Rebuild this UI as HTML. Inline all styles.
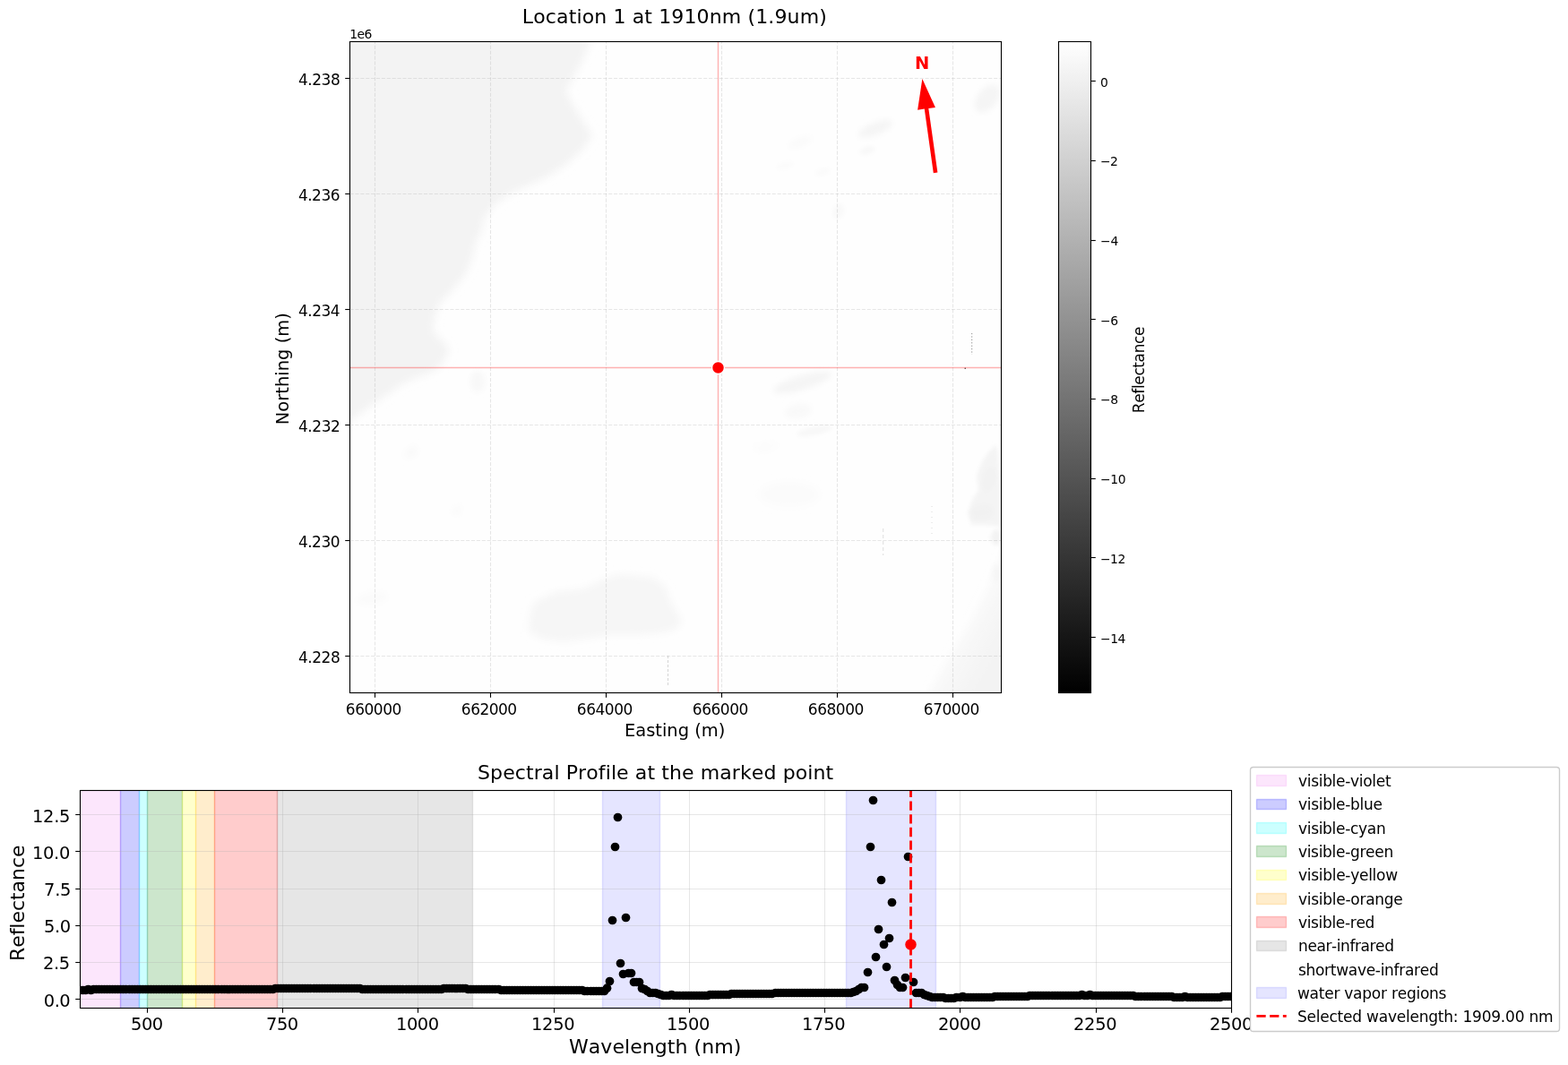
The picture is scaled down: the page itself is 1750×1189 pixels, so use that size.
<!DOCTYPE html>
<html lang="en"><head><meta charset="utf-8"><title>Location 1 at 1910nm (1.9um)</title>
<style>
html,body{margin:0;padding:0;background:#fff;}
body{width:1750px;height:1189px;overflow:hidden;font-family:"DejaVu Sans", "Liberation Sans", sans-serif;}
svg{display:block;}
</style></head>
<body>
<svg width="1750" height="1189" viewBox="0 0 1750 1189" font-family='"DejaVu Sans", "Liberation Sans", sans-serif' style="font-variant-ligatures:none;font-kerning:none">
<defs>
<linearGradient id="cb" x1="0" y1="0" x2="0" y2="1">
<stop offset="0" stop-color="#fff"/><stop offset="1" stop-color="#000"/>
</linearGradient>
<filter id="bl6" x="-30%" y="-30%" width="160%" height="160%"><feGaussianBlur stdDeviation="7"/></filter>
<filter id="bl5" x="-30%" y="-30%" width="160%" height="160%"><feGaussianBlur stdDeviation="5"/></filter>
<filter id="bl4" x="-30%" y="-30%" width="160%" height="160%"><feGaussianBlur stdDeviation="4"/></filter>
<filter id="bl3" x="-50%" y="-50%" width="200%" height="200%"><feGaussianBlur stdDeviation="3"/></filter>
<filter id="bl2" x="-50%" y="-50%" width="200%" height="200%"><feGaussianBlur stdDeviation="2"/></filter>
<clipPath id="c1"><rect x="391" y="47" width="726" height="726"/></clipPath>
<clipPath id="c2"><rect x="90" y="883" width="1284" height="242"/></clipPath>
</defs>
<rect x="0" y="0" width="1750" height="1189" fill="#fff"/>
<g id="img" clip-path="url(#c1)">
<rect x="391" y="47" width="726" height="726" fill="#fefefe"/>
<path d="M360.0 20.0 L663.0 20.0 L659.0 47.4 L650.0 67.8 L640.0 86.3 L631.0 101.0 L640.0 117.7 L651.0 136.2 L661.0 151.0 L651.0 165.9 L631.0 184.4 L607.0 199.2 L570.0 215.8 L551.6 228.8 L540.0 243.6 L537.0 260.0 L531.0 268.5 L527.5 287.0 L520.0 305.5 L505.0 324.0 L490.5 338.8 L485.0 353.6 L483.0 370.0 L496.0 383.0 L501.6 390.7 L496.0 401.8 L487.0 412.9 L459.0 424.0 L450.0 428.0 L440.0 435.0 L413.0 453.6 L394.0 468.0 L370.0 476.0 L360.0 476.0Z" fill="#f3f3f3" fill-opacity="1.0" filter="url(#bl5)"/>
<ellipse cx="533.0" cy="426.0" rx="8.0" ry="12.0" transform="rotate(0 533.0 426.0)" fill="#f8f8f8" fill-opacity="1.0" filter="url(#bl3)"/>
<path d="M590.3 693.9 L594.8 672.7 L620.6 660.6 L650.9 657.5 L666.0 650.0 L688.7 640.9 L726.6 643.9 L741.7 653.0 L749.3 672.7 L761.4 693.9 L753.8 703.0 L734.1 707.5 L711.4 709.0 L681.1 709.0 L658.4 712.8 L628.1 716.6 L605.4 713.6 L590.3 706.0Z" fill="#f6f6f6" fill-opacity="1.0" filter="url(#bl4)"/>
<linearGradient id="cg" gradientUnits="userSpaceOnUse" x1="1062" y1="690" x2="1117" y2="722"><stop offset="0" stop-color="#f3f3f3" stop-opacity="0"/><stop offset="0.45" stop-color="#f3f3f3" stop-opacity="0.55"/><stop offset="1" stop-color="#f3f3f3" stop-opacity="1"/></linearGradient>
<path d="M1120.0 610.0 L1100.0 660.0 L1080.0 700.0 L1058.0 735.0 L1036.0 772.5 L1030.0 800.0 L1140.0 800.0 L1140.0 610.0Z" fill="url(#cg)" fill-opacity="1.0" filter="url(#bl4)"/>
<path d="M1110.0 497.0 L1113.0 500.0 L1115.0 520.0 L1117.0 540.0 L1117.0 588.0 L1100.0 586.0 L1084.0 586.0 L1080.0 572.0 L1086.0 556.0 L1092.0 548.0 L1090.0 530.0 L1098.0 512.0Z" fill="#f4f4f4" fill-opacity="1.0" filter="url(#bl2)"/>
<ellipse cx="1096.0" cy="572.0" rx="13.0" ry="9.0" transform="rotate(-10 1096.0 572.0)" fill="#f0f0f0" fill-opacity="0.6" filter="url(#bl2)"/>
<ellipse cx="1104.0" cy="535.0" rx="7.0" ry="14.0" transform="rotate(15 1104.0 535.0)" fill="#f0f0f0" fill-opacity="0.5" filter="url(#bl2)"/>
<ellipse cx="1112.0" cy="600.0" rx="6.0" ry="9.0" transform="rotate(0 1112.0 600.0)" fill="#f3f3f3" fill-opacity="1.0" filter="url(#bl2)"/>
<ellipse cx="1113.0" cy="640.0" rx="5.0" ry="10.0" transform="rotate(0 1113.0 640.0)" fill="#f5f5f5" fill-opacity="1.0" filter="url(#bl3)"/>
<ellipse cx="977.0" cy="143.8" rx="20.0" ry="7.0" transform="rotate(-22 977.0 143.8)" fill="#f5f5f5" fill-opacity="1.0" filter="url(#bl3)"/>
<ellipse cx="968.0" cy="168.0" rx="9.0" ry="4.0" transform="rotate(-15 968.0 168.0)" fill="#f8f8f8" fill-opacity="1.0" filter="url(#bl2)"/>
<ellipse cx="1102.0" cy="110.0" rx="18.0" ry="11.0" transform="rotate(-50 1102.0 110.0)" fill="#f5f5f5" fill-opacity="1.0" filter="url(#bl3)"/>
<ellipse cx="893.0" cy="159.0" rx="14.0" ry="5.0" transform="rotate(-20 893.0 159.0)" fill="#fafafa" fill-opacity="1.0" filter="url(#bl3)"/>
<ellipse cx="876.0" cy="185.0" rx="10.0" ry="4.0" transform="rotate(-15 876.0 185.0)" fill="#fbfbfb" fill-opacity="1.0" filter="url(#bl2)"/>
<ellipse cx="918.0" cy="192.0" rx="9.0" ry="4.0" transform="rotate(-15 918.0 192.0)" fill="#fbfbfb" fill-opacity="1.0" filter="url(#bl2)"/>
<ellipse cx="936.0" cy="236.0" rx="6.0" ry="9.0" transform="rotate(20 936.0 236.0)" fill="#f9f9f9" fill-opacity="1.0" filter="url(#bl2)"/>
<ellipse cx="895.5" cy="427.0" rx="34.0" ry="8.0" transform="rotate(-17 895.5 427.0)" fill="#f5f5f5" fill-opacity="1.0" filter="url(#bl3)"/>
<ellipse cx="891.0" cy="459.0" rx="15.0" ry="8.0" transform="rotate(-10 891.0 459.0)" fill="#f9f9f9" fill-opacity="1.0" filter="url(#bl3)"/>
<ellipse cx="909.0" cy="481.0" rx="20.0" ry="5.0" transform="rotate(-12 909.0 481.0)" fill="#f8f8f8" fill-opacity="1.0" filter="url(#bl2)"/>
<ellipse cx="854.0" cy="499.0" rx="14.0" ry="6.0" transform="rotate(-10 854.0 499.0)" fill="#fcfcfc" fill-opacity="1.0" filter="url(#bl3)"/>
<ellipse cx="881.0" cy="552.0" rx="34.0" ry="14.0" transform="rotate(0 881.0 552.0)" fill="#fbfbfb" fill-opacity="1.0" filter="url(#bl4)"/>
<ellipse cx="415.0" cy="668.0" rx="18.0" ry="7.0" transform="rotate(-10 415.0 668.0)" fill="#fbfbfb" fill-opacity="1.0" filter="url(#bl3)"/>
<ellipse cx="459.0" cy="505.0" rx="9.0" ry="6.0" transform="rotate(-40 459.0 505.0)" fill="#fafafa" fill-opacity="1.0" filter="url(#bl3)"/>
<ellipse cx="510.0" cy="570.0" rx="7.0" ry="5.0" transform="rotate(-40 510.0 570.0)" fill="#fbfbfb" fill-opacity="1.0" filter="url(#bl3)"/>
<g fill="none" stroke-linecap="butt">
<path d="M1084.7 372v24" stroke="#333" stroke-width="0.7" stroke-dasharray="1.2 2.2" stroke-opacity="0.8"/>
<path d="M745.5 732v33" stroke="#999" stroke-width="0.7" stroke-dasharray="3 2" stroke-opacity="0.6"/>
<path d="M985.7 590v30" stroke="#aaa" stroke-width="0.7" stroke-dasharray="4 3" stroke-opacity="0.5"/>
<path d="M1040 565v35" stroke="#aaa" stroke-width="0.7" stroke-dasharray="1 5" stroke-opacity="0.6"/>
</g>
<circle cx="1077.2" cy="411.3" r="0.7" fill="#222"/>
</g>
<g stroke="#b0b0b0" stroke-opacity="0.3" stroke-width="1.11" stroke-dasharray="4.11 1.78" fill="none">
<path d="M418.5 773.5V46.5"/>
<path d="M547.5 773.5V46.5"/>
<path d="M676.5 773.5V46.5"/>
<path d="M805.5 773.5V46.5"/>
<path d="M934.5 773.5V46.5"/>
<path d="M1063.5 773.5V46.5"/>
<path d="M390.5 732.5H1117.5"/>
<path d="M390.5 603.5H1117.5"/>
<path d="M390.5 474.5H1117.5"/>
<path d="M390.5 345.5H1117.5"/>
<path d="M390.5 216.5H1117.5"/>
<path d="M390.5 87.5H1117.5"/>
</g>
<g stroke="#f00" stroke-opacity="0.3" stroke-width="1.39" clip-path="url(#c1)"><path d="M801.5 773.5V46.5"/><path d="M390.5 410.5H1117.5"/></g>
<circle cx="801.5" cy="410.5" r="6.94" fill="#f00" stroke="#fff" stroke-width="1.39"/>
<polygon points="1046.38,192.58 1036.30,120.95 1043.92,119.88 1029.35,88.10 1024.12,122.67 1031.74,121.59 1041.82,193.22" fill="#f00"/>
<text x="1020.98" y="77.00" font-size="19.44" font-weight="bold" fill="#f00">N</text>
<g stroke="#000" stroke-width="1.11" fill="none">
<path d="M418.5 773.5v5.26"/>
<path d="M547.5 773.5v5.26"/>
<path d="M676.5 773.5v5.26"/>
<path d="M805.5 773.5v5.26"/>
<path d="M934.5 773.5v5.26"/>
<path d="M1063.5 773.5v5.26"/>
<path d="M390.5 732.5h-5.26"/>
<path d="M390.5 603.5h-5.26"/>
<path d="M390.5 474.5h-5.26"/>
<path d="M390.5 345.5h-5.26"/>
<path d="M390.5 216.5h-5.26"/>
<path d="M390.5 87.5h-5.26"/>
<rect x="390.5" y="46.5" width="727.0" height="727.0"/>
</g>
<text x="385.86" y="798.00" font-size="17.00" textLength="62.41" lengthAdjust="spacing">660000</text>
<text x="332.91" y="95.00" font-size="17.00" textLength="46.83" lengthAdjust="spacing">4.238</text>
<text x="514.86" y="798.00" font-size="17.00" textLength="62.22" lengthAdjust="spacing">662000</text>
<text x="332.91" y="224.00" font-size="17.00" textLength="46.60" lengthAdjust="spacing">4.236</text>
<text x="643.86" y="798.00" font-size="17.00" textLength="62.41" lengthAdjust="spacing">664000</text>
<text x="332.91" y="353.00" font-size="17.00" textLength="46.73" lengthAdjust="spacing">4.234</text>
<text x="772.86" y="798.00" font-size="17.00" textLength="62.41" lengthAdjust="spacing">666000</text>
<text x="332.91" y="482.00" font-size="17.00" textLength="46.95" lengthAdjust="spacing">4.232</text>
<text x="901.86" y="798.00" font-size="17.00" textLength="62.41" lengthAdjust="spacing">668000</text>
<text x="332.91" y="611.00" font-size="17.00" textLength="46.65" lengthAdjust="spacing">4.230</text>
<text x="1030.86" y="798.00" font-size="17.00" textLength="62.41" lengthAdjust="spacing">670000</text>
<text x="332.91" y="740.00" font-size="17.00" textLength="46.83" lengthAdjust="spacing">4.228</text>
<text x="390.13" y="43.00" font-size="13.89" textLength="25.10" lengthAdjust="spacing">1e6</text>
<text x="582.86" y="26.00" font-size="22.00" textLength="339.95" lengthAdjust="spacing">Location 1 at 1910nm (1.9um)</text>
<text x="696.94" y="822.00" font-size="19.44" textLength="112.33" lengthAdjust="spacing">Easting (m)</text>
<text transform="translate(322.00,474.23) rotate(-90)" font-size="19.44" textLength="125.07" lengthAdjust="spacing">Northing (m)</text>
<rect x="1181.5" y="46.5" width="36.0" height="727.0" fill="url(#cb)"/>
<g stroke="#000" stroke-width="1.11" fill="none">
<path d="M1217.5 90.5h5.26"/>
<path d="M1217.5 179.5h5.26"/>
<path d="M1217.5 268.5h5.26"/>
<path d="M1217.5 356.5h5.26"/>
<path d="M1217.5 445.5h5.26"/>
<path d="M1217.5 534.5h5.26"/>
<path d="M1217.5 622.5h5.26"/>
<path d="M1217.5 711.5h5.26"/>
<rect x="1181.5" y="46.5" width="36.0" height="727.0"/>
</g>
<text x="1227.90" y="97.00" font-size="13.89">0</text>
<text x="1227.96" y="185.00" font-size="13.89" textLength="19.96" lengthAdjust="spacing">−2</text>
<text x="1227.96" y="274.00" font-size="13.89" textLength="20.30" lengthAdjust="spacing">−4</text>
<text x="1227.96" y="363.00" font-size="13.89" textLength="20.05" lengthAdjust="spacing">−6</text>
<text x="1227.96" y="451.00" font-size="13.89" textLength="20.24" lengthAdjust="spacing">−8</text>
<text x="1227.96" y="540.00" font-size="13.89" textLength="28.65" lengthAdjust="spacing">−10</text>
<text x="1227.96" y="629.00" font-size="13.89" textLength="28.30" lengthAdjust="spacing">−12</text>
<text x="1227.96" y="718.00" font-size="13.89" textLength="28.46" lengthAdjust="spacing">−14</text>
<text transform="translate(1277.00,461.13) rotate(-90)" font-size="17.00" textLength="96.61" lengthAdjust="spacing">Reflectance</text>
<g clip-path="url(#c2)">
<rect x="43.50" y="877.5" width="91.00" height="253.0" fill="#ee82ee" fill-opacity="0.2" stroke="#ee82ee" stroke-opacity="0.2" stroke-width="1.39"/>
<rect x="134.50" y="877.5" width="21.00" height="253.0" fill="#0000ff" fill-opacity="0.2" stroke="#0000ff" stroke-opacity="0.2" stroke-width="1.39"/>
<rect x="155.50" y="877.5" width="9.00" height="253.0" fill="#00ffff" fill-opacity="0.2" stroke="#00ffff" stroke-opacity="0.2" stroke-width="1.39"/>
<rect x="164.50" y="877.5" width="39.00" height="253.0" fill="#008000" fill-opacity="0.2" stroke="#008000" stroke-opacity="0.2" stroke-width="1.39"/>
<rect x="203.50" y="877.5" width="15.00" height="253.0" fill="#ffff00" fill-opacity="0.2" stroke="#ffff00" stroke-opacity="0.2" stroke-width="1.39"/>
<rect x="218.50" y="877.5" width="21.00" height="253.0" fill="#ffa500" fill-opacity="0.2" stroke="#ffa500" stroke-opacity="0.2" stroke-width="1.39"/>
<rect x="239.50" y="877.5" width="70.00" height="253.0" fill="#ff0000" fill-opacity="0.2" stroke="#ff0000" stroke-opacity="0.2" stroke-width="1.39"/>
<rect x="309.50" y="877.5" width="218.00" height="253.0" fill="#808080" fill-opacity="0.2" stroke="#808080" stroke-opacity="0.2" stroke-width="1.39"/>
<rect x="672.50" y="877.5" width="64.00" height="253.0" fill="#0000ff" fill-opacity="0.1" stroke="#0000ff" stroke-opacity="0.1" stroke-width="1.39"/>
<rect x="944.50" y="877.5" width="100.00" height="253.0" fill="#0000ff" fill-opacity="0.1" stroke="#0000ff" stroke-opacity="0.1" stroke-width="1.39"/>
</g>
<g stroke="#b0b0b0" stroke-opacity="0.3" stroke-width="1.11" fill="none" clip-path="url(#c2)">
<path d="M164.5 1125.5V882.5"/>
<path d="M315.5 1125.5V882.5"/>
<path d="M466.5 1125.5V882.5"/>
<path d="M618.5 1125.5V882.5"/>
<path d="M769.5 1125.5V882.5"/>
<path d="M920.5 1125.5V882.5"/>
<path d="M1071.5 1125.5V882.5"/>
<path d="M1223.5 1125.5V882.5"/>
<path d="M1374.5 1125.5V882.5"/>
<path d="M89.5 1115.5H1374.5"/>
<path d="M89.5 1074.5H1374.5"/>
<path d="M89.5 1033.5H1374.5"/>
<path d="M89.5 992.5H1374.5"/>
<path d="M89.5 950.5H1374.5"/>
<path d="M89.5 909.5H1374.5"/>
</g>
<g fill="#000" clip-path="url(#c2b)">
<clipPath id="c2b"><rect x="89.5" y="882.5" width="1285" height="243"/></clipPath>
<circle cx="89.5" cy="1105.5" r="4.86"/>
<circle cx="92.5" cy="1105.5" r="4.86"/>
<circle cx="95.5" cy="1105.5" r="4.86"/>
<circle cx="98.5" cy="1104.5" r="4.86"/>
<circle cx="101.5" cy="1105.5" r="4.86"/>
<circle cx="104.5" cy="1104.5" r="4.86"/>
<circle cx="107.5" cy="1104.5" r="4.86"/>
<circle cx="110.5" cy="1104.5" r="4.86"/>
<circle cx="113.5" cy="1104.5" r="4.86"/>
<circle cx="116.5" cy="1104.5" r="4.86"/>
<circle cx="119.5" cy="1104.5" r="4.86"/>
<circle cx="122.5" cy="1104.5" r="4.86"/>
<circle cx="125.5" cy="1104.5" r="4.86"/>
<circle cx="128.5" cy="1104.5" r="4.86"/>
<circle cx="131.5" cy="1104.5" r="4.86"/>
<circle cx="134.5" cy="1104.5" r="4.86"/>
<circle cx="137.5" cy="1104.5" r="4.86"/>
<circle cx="140.5" cy="1104.5" r="4.86"/>
<circle cx="144.5" cy="1104.5" r="4.86"/>
<circle cx="147.5" cy="1104.5" r="4.86"/>
<circle cx="150.5" cy="1104.5" r="4.86"/>
<circle cx="153.5" cy="1104.5" r="4.86"/>
<circle cx="156.5" cy="1104.5" r="4.86"/>
<circle cx="159.5" cy="1104.5" r="4.86"/>
<circle cx="162.5" cy="1104.5" r="4.86"/>
<circle cx="165.5" cy="1104.5" r="4.86"/>
<circle cx="168.5" cy="1104.5" r="4.86"/>
<circle cx="171.5" cy="1104.5" r="4.86"/>
<circle cx="174.5" cy="1104.5" r="4.86"/>
<circle cx="177.5" cy="1104.5" r="4.86"/>
<circle cx="180.5" cy="1104.5" r="4.86"/>
<circle cx="183.5" cy="1104.5" r="4.86"/>
<circle cx="186.5" cy="1104.5" r="4.86"/>
<circle cx="189.5" cy="1104.5" r="4.86"/>
<circle cx="192.5" cy="1104.5" r="4.86"/>
<circle cx="195.5" cy="1104.5" r="4.86"/>
<circle cx="198.5" cy="1104.5" r="4.86"/>
<circle cx="201.5" cy="1104.5" r="4.86"/>
<circle cx="204.5" cy="1104.5" r="4.86"/>
<circle cx="207.5" cy="1104.5" r="4.86"/>
<circle cx="210.5" cy="1104.5" r="4.86"/>
<circle cx="213.5" cy="1104.5" r="4.86"/>
<circle cx="216.5" cy="1104.5" r="4.86"/>
<circle cx="219.5" cy="1104.5" r="4.86"/>
<circle cx="222.5" cy="1104.5" r="4.86"/>
<circle cx="225.5" cy="1104.5" r="4.86"/>
<circle cx="228.5" cy="1104.5" r="4.86"/>
<circle cx="231.5" cy="1104.5" r="4.86"/>
<circle cx="234.5" cy="1104.5" r="4.86"/>
<circle cx="237.5" cy="1104.5" r="4.86"/>
<circle cx="240.5" cy="1104.5" r="4.86"/>
<circle cx="243.5" cy="1104.5" r="4.86"/>
<circle cx="247.5" cy="1104.5" r="4.86"/>
<circle cx="250.5" cy="1104.5" r="4.86"/>
<circle cx="253.5" cy="1104.5" r="4.86"/>
<circle cx="256.5" cy="1104.5" r="4.86"/>
<circle cx="259.5" cy="1104.5" r="4.86"/>
<circle cx="262.5" cy="1104.5" r="4.86"/>
<circle cx="265.5" cy="1104.5" r="4.86"/>
<circle cx="268.5" cy="1104.5" r="4.86"/>
<circle cx="271.5" cy="1104.5" r="4.86"/>
<circle cx="274.5" cy="1104.5" r="4.86"/>
<circle cx="277.5" cy="1104.5" r="4.86"/>
<circle cx="280.5" cy="1104.5" r="4.86"/>
<circle cx="283.5" cy="1104.5" r="4.86"/>
<circle cx="286.5" cy="1104.5" r="4.86"/>
<circle cx="289.5" cy="1104.5" r="4.86"/>
<circle cx="292.5" cy="1104.5" r="4.86"/>
<circle cx="295.5" cy="1104.5" r="4.86"/>
<circle cx="298.5" cy="1104.5" r="4.86"/>
<circle cx="301.5" cy="1104.5" r="4.86"/>
<circle cx="304.5" cy="1104.5" r="4.86"/>
<circle cx="307.5" cy="1103.5" r="4.86"/>
<circle cx="310.5" cy="1103.5" r="4.86"/>
<circle cx="313.5" cy="1103.5" r="4.86"/>
<circle cx="316.5" cy="1103.5" r="4.86"/>
<circle cx="319.5" cy="1103.5" r="4.86"/>
<circle cx="322.5" cy="1103.5" r="4.86"/>
<circle cx="325.5" cy="1103.5" r="4.86"/>
<circle cx="328.5" cy="1103.5" r="4.86"/>
<circle cx="331.5" cy="1103.5" r="4.86"/>
<circle cx="334.5" cy="1103.5" r="4.86"/>
<circle cx="337.5" cy="1103.5" r="4.86"/>
<circle cx="340.5" cy="1103.5" r="4.86"/>
<circle cx="343.5" cy="1103.5" r="4.86"/>
<circle cx="346.5" cy="1103.5" r="4.86"/>
<circle cx="350.5" cy="1103.5" r="4.86"/>
<circle cx="353.5" cy="1103.5" r="4.86"/>
<circle cx="356.5" cy="1103.5" r="4.86"/>
<circle cx="359.5" cy="1103.5" r="4.86"/>
<circle cx="362.5" cy="1103.5" r="4.86"/>
<circle cx="365.5" cy="1103.5" r="4.86"/>
<circle cx="368.5" cy="1103.5" r="4.86"/>
<circle cx="371.5" cy="1103.5" r="4.86"/>
<circle cx="374.5" cy="1103.5" r="4.86"/>
<circle cx="377.5" cy="1103.5" r="4.86"/>
<circle cx="380.5" cy="1103.5" r="4.86"/>
<circle cx="383.5" cy="1103.5" r="4.86"/>
<circle cx="386.5" cy="1103.5" r="4.86"/>
<circle cx="389.5" cy="1103.5" r="4.86"/>
<circle cx="392.5" cy="1103.5" r="4.86"/>
<circle cx="395.5" cy="1103.5" r="4.86"/>
<circle cx="398.5" cy="1103.5" r="4.86"/>
<circle cx="401.5" cy="1103.5" r="4.86"/>
<circle cx="404.5" cy="1104.5" r="4.86"/>
<circle cx="407.5" cy="1104.5" r="4.86"/>
<circle cx="410.5" cy="1104.5" r="4.86"/>
<circle cx="413.5" cy="1104.5" r="4.86"/>
<circle cx="416.5" cy="1104.5" r="4.86"/>
<circle cx="419.5" cy="1104.5" r="4.86"/>
<circle cx="422.5" cy="1104.5" r="4.86"/>
<circle cx="425.5" cy="1104.5" r="4.86"/>
<circle cx="428.5" cy="1104.5" r="4.86"/>
<circle cx="431.5" cy="1104.5" r="4.86"/>
<circle cx="434.5" cy="1104.5" r="4.86"/>
<circle cx="437.5" cy="1104.5" r="4.86"/>
<circle cx="440.5" cy="1104.5" r="4.86"/>
<circle cx="443.5" cy="1104.5" r="4.86"/>
<circle cx="446.5" cy="1104.5" r="4.86"/>
<circle cx="449.5" cy="1104.5" r="4.86"/>
<circle cx="453.5" cy="1104.5" r="4.86"/>
<circle cx="456.5" cy="1104.5" r="4.86"/>
<circle cx="459.5" cy="1104.5" r="4.86"/>
<circle cx="462.5" cy="1104.5" r="4.86"/>
<circle cx="465.5" cy="1104.5" r="4.86"/>
<circle cx="468.5" cy="1104.5" r="4.86"/>
<circle cx="471.5" cy="1104.5" r="4.86"/>
<circle cx="474.5" cy="1104.5" r="4.86"/>
<circle cx="477.5" cy="1104.5" r="4.86"/>
<circle cx="480.5" cy="1104.5" r="4.86"/>
<circle cx="483.5" cy="1104.5" r="4.86"/>
<circle cx="486.5" cy="1104.5" r="4.86"/>
<circle cx="489.5" cy="1104.5" r="4.86"/>
<circle cx="492.5" cy="1104.5" r="4.86"/>
<circle cx="495.5" cy="1103.5" r="4.86"/>
<circle cx="498.5" cy="1103.5" r="4.86"/>
<circle cx="501.5" cy="1103.5" r="4.86"/>
<circle cx="504.5" cy="1103.5" r="4.86"/>
<circle cx="507.5" cy="1103.5" r="4.86"/>
<circle cx="510.5" cy="1103.5" r="4.86"/>
<circle cx="513.5" cy="1103.5" r="4.86"/>
<circle cx="516.5" cy="1103.5" r="4.86"/>
<circle cx="519.5" cy="1103.5" r="4.86"/>
<circle cx="522.5" cy="1104.5" r="4.86"/>
<circle cx="525.5" cy="1104.5" r="4.86"/>
<circle cx="528.5" cy="1104.5" r="4.86"/>
<circle cx="531.5" cy="1104.5" r="4.86"/>
<circle cx="534.5" cy="1104.5" r="4.86"/>
<circle cx="537.5" cy="1104.5" r="4.86"/>
<circle cx="540.5" cy="1104.5" r="4.86"/>
<circle cx="543.5" cy="1104.5" r="4.86"/>
<circle cx="546.5" cy="1104.5" r="4.86"/>
<circle cx="549.5" cy="1104.5" r="4.86"/>
<circle cx="552.5" cy="1104.5" r="4.86"/>
<circle cx="556.5" cy="1104.5" r="4.86"/>
<circle cx="559.5" cy="1105.5" r="4.86"/>
<circle cx="562.5" cy="1105.5" r="4.86"/>
<circle cx="565.5" cy="1105.5" r="4.86"/>
<circle cx="568.5" cy="1105.5" r="4.86"/>
<circle cx="571.5" cy="1105.5" r="4.86"/>
<circle cx="574.5" cy="1105.5" r="4.86"/>
<circle cx="577.5" cy="1105.5" r="4.86"/>
<circle cx="580.5" cy="1105.5" r="4.86"/>
<circle cx="583.5" cy="1105.5" r="4.86"/>
<circle cx="586.5" cy="1105.5" r="4.86"/>
<circle cx="589.5" cy="1105.5" r="4.86"/>
<circle cx="592.5" cy="1105.5" r="4.86"/>
<circle cx="595.5" cy="1105.5" r="4.86"/>
<circle cx="598.5" cy="1105.5" r="4.86"/>
<circle cx="601.5" cy="1105.5" r="4.86"/>
<circle cx="604.5" cy="1105.5" r="4.86"/>
<circle cx="607.5" cy="1105.5" r="4.86"/>
<circle cx="610.5" cy="1105.5" r="4.86"/>
<circle cx="613.5" cy="1105.5" r="4.86"/>
<circle cx="616.5" cy="1105.5" r="4.86"/>
<circle cx="619.5" cy="1105.5" r="4.86"/>
<circle cx="622.5" cy="1105.5" r="4.86"/>
<circle cx="625.5" cy="1105.5" r="4.86"/>
<circle cx="628.5" cy="1105.5" r="4.86"/>
<circle cx="631.5" cy="1105.5" r="4.86"/>
<circle cx="634.5" cy="1105.5" r="4.86"/>
<circle cx="637.5" cy="1105.5" r="4.86"/>
<circle cx="640.5" cy="1105.5" r="4.86"/>
<circle cx="643.5" cy="1105.5" r="4.86"/>
<circle cx="646.5" cy="1105.5" r="4.86"/>
<circle cx="649.5" cy="1105.5" r="4.86"/>
<circle cx="652.5" cy="1106.5" r="4.86"/>
<circle cx="655.5" cy="1106.5" r="4.86"/>
<circle cx="659.5" cy="1106.5" r="4.86"/>
<circle cx="662.5" cy="1106.5" r="4.86"/>
<circle cx="665.5" cy="1106.5" r="4.86"/>
<circle cx="668.5" cy="1106.5" r="4.86"/>
<circle cx="671.5" cy="1106.5" r="4.86"/>
<circle cx="674.5" cy="1106.5" r="4.86"/>
<circle cx="677.5" cy="1103.2" r="4.86"/>
<circle cx="680.5" cy="1095.5" r="4.86"/>
<circle cx="683.5" cy="1027.5" r="4.86"/>
<circle cx="686.5" cy="945.5" r="4.86"/>
<circle cx="689.5" cy="912.5" r="4.86"/>
<circle cx="692.5" cy="1075.5" r="4.86"/>
<circle cx="695.5" cy="1087.5" r="4.86"/>
<circle cx="698.5" cy="1024.5" r="4.86"/>
<circle cx="701.5" cy="1086.5" r="4.86"/>
<circle cx="704.5" cy="1086.5" r="4.86"/>
<circle cx="707.5" cy="1096.5" r="4.86"/>
<circle cx="710.5" cy="1096.5" r="4.86"/>
<circle cx="713.5" cy="1096.5" r="4.86"/>
<circle cx="716.5" cy="1103.5" r="4.86"/>
<circle cx="719.5" cy="1104.5" r="4.86"/>
<circle cx="722.5" cy="1106.5" r="4.86"/>
<circle cx="725.5" cy="1108.5" r="4.86"/>
<circle cx="728.5" cy="1108.5" r="4.86"/>
<circle cx="731.5" cy="1108.5" r="4.86"/>
<circle cx="734.5" cy="1109.5" r="4.86"/>
<circle cx="737.5" cy="1110.5" r="4.86"/>
<circle cx="740.5" cy="1111.5" r="4.86"/>
<circle cx="743.5" cy="1111.5" r="4.86"/>
<circle cx="746.5" cy="1111.5" r="4.86"/>
<circle cx="749.5" cy="1110.5" r="4.86"/>
<circle cx="752.5" cy="1111.5" r="4.86"/>
<circle cx="755.5" cy="1111.5" r="4.86"/>
<circle cx="758.5" cy="1111.5" r="4.86"/>
<circle cx="762.5" cy="1111.5" r="4.86"/>
<circle cx="765.5" cy="1111.5" r="4.86"/>
<circle cx="768.5" cy="1111.5" r="4.86"/>
<circle cx="771.5" cy="1111.5" r="4.86"/>
<circle cx="774.5" cy="1111.5" r="4.86"/>
<circle cx="777.5" cy="1111.5" r="4.86"/>
<circle cx="780.5" cy="1111.5" r="4.86"/>
<circle cx="783.5" cy="1111.5" r="4.86"/>
<circle cx="786.5" cy="1111.5" r="4.86"/>
<circle cx="789.5" cy="1111.5" r="4.86"/>
<circle cx="792.5" cy="1110.5" r="4.86"/>
<circle cx="795.5" cy="1110.5" r="4.86"/>
<circle cx="798.5" cy="1110.5" r="4.86"/>
<circle cx="801.5" cy="1110.5" r="4.86"/>
<circle cx="804.5" cy="1110.5" r="4.86"/>
<circle cx="807.5" cy="1110.5" r="4.86"/>
<circle cx="810.5" cy="1110.5" r="4.86"/>
<circle cx="813.5" cy="1110.5" r="4.86"/>
<circle cx="816.5" cy="1109.5" r="4.86"/>
<circle cx="819.5" cy="1109.5" r="4.86"/>
<circle cx="822.5" cy="1109.5" r="4.86"/>
<circle cx="825.5" cy="1109.5" r="4.86"/>
<circle cx="828.5" cy="1109.5" r="4.86"/>
<circle cx="831.5" cy="1109.5" r="4.86"/>
<circle cx="834.5" cy="1109.5" r="4.86"/>
<circle cx="837.5" cy="1109.5" r="4.86"/>
<circle cx="840.5" cy="1109.5" r="4.86"/>
<circle cx="843.5" cy="1109.5" r="4.86"/>
<circle cx="846.5" cy="1109.5" r="4.86"/>
<circle cx="849.5" cy="1109.5" r="4.86"/>
<circle cx="852.5" cy="1109.5" r="4.86"/>
<circle cx="855.5" cy="1109.5" r="4.86"/>
<circle cx="858.5" cy="1109.5" r="4.86"/>
<circle cx="861.5" cy="1109.5" r="4.86"/>
<circle cx="865.5" cy="1108.5" r="4.86"/>
<circle cx="868.5" cy="1108.5" r="4.86"/>
<circle cx="871.5" cy="1108.5" r="4.86"/>
<circle cx="874.5" cy="1108.5" r="4.86"/>
<circle cx="877.5" cy="1108.5" r="4.86"/>
<circle cx="880.5" cy="1108.5" r="4.86"/>
<circle cx="883.5" cy="1108.5" r="4.86"/>
<circle cx="886.5" cy="1108.5" r="4.86"/>
<circle cx="889.5" cy="1108.5" r="4.86"/>
<circle cx="892.5" cy="1108.5" r="4.86"/>
<circle cx="895.5" cy="1108.5" r="4.86"/>
<circle cx="898.5" cy="1108.5" r="4.86"/>
<circle cx="901.5" cy="1108.5" r="4.86"/>
<circle cx="904.5" cy="1108.5" r="4.86"/>
<circle cx="907.5" cy="1108.5" r="4.86"/>
<circle cx="910.5" cy="1108.5" r="4.86"/>
<circle cx="913.5" cy="1108.5" r="4.86"/>
<circle cx="916.5" cy="1108.5" r="4.86"/>
<circle cx="919.5" cy="1108.5" r="4.86"/>
<circle cx="922.5" cy="1108.5" r="4.86"/>
<circle cx="925.5" cy="1108.5" r="4.86"/>
<circle cx="928.5" cy="1108.5" r="4.86"/>
<circle cx="931.5" cy="1108.5" r="4.86"/>
<circle cx="934.5" cy="1108.5" r="4.86"/>
<circle cx="937.5" cy="1108.5" r="4.86"/>
<circle cx="940.5" cy="1108.5" r="4.86"/>
<circle cx="943.5" cy="1108.5" r="4.86"/>
<circle cx="946.5" cy="1108.5" r="4.86"/>
<circle cx="949.5" cy="1108.5" r="4.86"/>
<circle cx="952.5" cy="1107.5" r="4.86"/>
<circle cx="955.5" cy="1106.5" r="4.86"/>
<circle cx="958.5" cy="1104.5" r="4.86"/>
<circle cx="961.5" cy="1102.5" r="4.86"/>
<circle cx="964.5" cy="1102.5" r="4.86"/>
<circle cx="968.5" cy="1085.5" r="4.86"/>
<circle cx="971.5" cy="945.5" r="4.86"/>
<circle cx="974.5" cy="893.5" r="4.86"/>
<circle cx="977.5" cy="1068.5" r="4.86"/>
<circle cx="980.5" cy="1037.5" r="4.86"/>
<circle cx="983.5" cy="982.5" r="4.86"/>
<circle cx="986.5" cy="1054.5" r="4.86"/>
<circle cx="989.5" cy="1079.5" r="4.86"/>
<circle cx="992.5" cy="1047.5" r="4.86"/>
<circle cx="995.5" cy="1007.5" r="4.86"/>
<circle cx="998.5" cy="1094.5" r="4.86"/>
<circle cx="1001.5" cy="1099.5" r="4.86"/>
<circle cx="1004.5" cy="1102.5" r="4.86"/>
<circle cx="1007.5" cy="1102.5" r="4.86"/>
<circle cx="1010.5" cy="1091.5" r="4.86"/>
<circle cx="1013.5" cy="956.5" r="4.86"/>
<circle cx="1016.5" cy="1054.5" r="4.86"/>
<circle cx="1019.5" cy="1096.5" r="4.86"/>
<circle cx="1022.5" cy="1108.5" r="4.86"/>
<circle cx="1025.5" cy="1108.5" r="4.86"/>
<circle cx="1028.5" cy="1108.5" r="4.86"/>
<circle cx="1031.5" cy="1110.5" r="4.86"/>
<circle cx="1034.5" cy="1111.5" r="4.86"/>
<circle cx="1037.5" cy="1112.5" r="4.86"/>
<circle cx="1040.5" cy="1113.5" r="4.86"/>
<circle cx="1043.5" cy="1113.5" r="4.86"/>
<circle cx="1046.5" cy="1113.5" r="4.86"/>
<circle cx="1049.5" cy="1113.5" r="4.86"/>
<circle cx="1052.5" cy="1113.5" r="4.86"/>
<circle cx="1055.5" cy="1114.5" r="4.86"/>
<circle cx="1058.5" cy="1114.5" r="4.86"/>
<circle cx="1061.5" cy="1114.5" r="4.86"/>
<circle cx="1064.5" cy="1114.5" r="4.86"/>
<circle cx="1067.5" cy="1113.5" r="4.86"/>
<circle cx="1071.5" cy="1113.5" r="4.86"/>
<circle cx="1074.5" cy="1112.5" r="4.86"/>
<circle cx="1077.5" cy="1113.5" r="4.86"/>
<circle cx="1080.5" cy="1113.5" r="4.86"/>
<circle cx="1083.5" cy="1113.5" r="4.86"/>
<circle cx="1086.5" cy="1113.5" r="4.86"/>
<circle cx="1089.5" cy="1113.5" r="4.86"/>
<circle cx="1092.5" cy="1113.5" r="4.86"/>
<circle cx="1095.5" cy="1113.5" r="4.86"/>
<circle cx="1098.5" cy="1113.5" r="4.86"/>
<circle cx="1101.5" cy="1113.5" r="4.86"/>
<circle cx="1104.5" cy="1113.5" r="4.86"/>
<circle cx="1107.5" cy="1113.5" r="4.86"/>
<circle cx="1110.5" cy="1112.5" r="4.86"/>
<circle cx="1113.5" cy="1112.5" r="4.86"/>
<circle cx="1116.5" cy="1112.5" r="4.86"/>
<circle cx="1119.5" cy="1112.5" r="4.86"/>
<circle cx="1122.5" cy="1112.5" r="4.86"/>
<circle cx="1125.5" cy="1112.5" r="4.86"/>
<circle cx="1128.5" cy="1112.5" r="4.86"/>
<circle cx="1131.5" cy="1112.5" r="4.86"/>
<circle cx="1134.5" cy="1112.5" r="4.86"/>
<circle cx="1137.5" cy="1112.5" r="4.86"/>
<circle cx="1140.5" cy="1112.5" r="4.86"/>
<circle cx="1143.5" cy="1112.5" r="4.86"/>
<circle cx="1146.5" cy="1112.5" r="4.86"/>
<circle cx="1149.5" cy="1111.5" r="4.86"/>
<circle cx="1152.5" cy="1111.5" r="4.86"/>
<circle cx="1155.5" cy="1111.5" r="4.86"/>
<circle cx="1158.5" cy="1111.5" r="4.86"/>
<circle cx="1161.5" cy="1111.5" r="4.86"/>
<circle cx="1164.5" cy="1111.5" r="4.86"/>
<circle cx="1167.5" cy="1111.5" r="4.86"/>
<circle cx="1170.5" cy="1111.5" r="4.86"/>
<circle cx="1174.5" cy="1111.5" r="4.86"/>
<circle cx="1177.5" cy="1111.5" r="4.86"/>
<circle cx="1180.5" cy="1111.5" r="4.86"/>
<circle cx="1183.5" cy="1111.5" r="4.86"/>
<circle cx="1186.5" cy="1111.5" r="4.86"/>
<circle cx="1189.5" cy="1111.5" r="4.86"/>
<circle cx="1192.5" cy="1111.5" r="4.86"/>
<circle cx="1195.5" cy="1111.5" r="4.86"/>
<circle cx="1198.5" cy="1111.5" r="4.86"/>
<circle cx="1201.5" cy="1111.5" r="4.86"/>
<circle cx="1204.5" cy="1111.5" r="4.86"/>
<circle cx="1207.5" cy="1110.5" r="4.86"/>
<circle cx="1210.5" cy="1111.5" r="4.86"/>
<circle cx="1213.5" cy="1111.5" r="4.86"/>
<circle cx="1216.5" cy="1110.5" r="4.86"/>
<circle cx="1219.5" cy="1111.5" r="4.86"/>
<circle cx="1222.5" cy="1111.5" r="4.86"/>
<circle cx="1225.5" cy="1111.5" r="4.86"/>
<circle cx="1228.5" cy="1111.5" r="4.86"/>
<circle cx="1231.5" cy="1111.5" r="4.86"/>
<circle cx="1234.5" cy="1111.5" r="4.86"/>
<circle cx="1237.5" cy="1111.5" r="4.86"/>
<circle cx="1240.5" cy="1111.5" r="4.86"/>
<circle cx="1243.5" cy="1111.5" r="4.86"/>
<circle cx="1246.5" cy="1111.5" r="4.86"/>
<circle cx="1249.5" cy="1111.5" r="4.86"/>
<circle cx="1252.5" cy="1111.5" r="4.86"/>
<circle cx="1255.5" cy="1111.5" r="4.86"/>
<circle cx="1258.5" cy="1111.5" r="4.86"/>
<circle cx="1261.5" cy="1111.5" r="4.86"/>
<circle cx="1264.5" cy="1111.5" r="4.86"/>
<circle cx="1267.5" cy="1112.5" r="4.86"/>
<circle cx="1270.5" cy="1112.5" r="4.86"/>
<circle cx="1273.5" cy="1112.5" r="4.86"/>
<circle cx="1277.5" cy="1112.5" r="4.86"/>
<circle cx="1280.5" cy="1112.5" r="4.86"/>
<circle cx="1283.5" cy="1112.5" r="4.86"/>
<circle cx="1286.5" cy="1112.5" r="4.86"/>
<circle cx="1289.5" cy="1112.5" r="4.86"/>
<circle cx="1292.5" cy="1112.5" r="4.86"/>
<circle cx="1295.5" cy="1112.5" r="4.86"/>
<circle cx="1298.5" cy="1112.5" r="4.86"/>
<circle cx="1301.5" cy="1112.5" r="4.86"/>
<circle cx="1304.5" cy="1112.5" r="4.86"/>
<circle cx="1307.5" cy="1112.5" r="4.86"/>
<circle cx="1310.5" cy="1113.5" r="4.86"/>
<circle cx="1313.5" cy="1113.5" r="4.86"/>
<circle cx="1316.5" cy="1113.5" r="4.86"/>
<circle cx="1319.5" cy="1113.5" r="4.86"/>
<circle cx="1322.5" cy="1112.5" r="4.86"/>
<circle cx="1325.5" cy="1113.5" r="4.86"/>
<circle cx="1328.5" cy="1113.5" r="4.86"/>
<circle cx="1331.5" cy="1113.5" r="4.86"/>
<circle cx="1334.5" cy="1113.5" r="4.86"/>
<circle cx="1337.5" cy="1113.5" r="4.86"/>
<circle cx="1340.5" cy="1113.5" r="4.86"/>
<circle cx="1343.5" cy="1113.5" r="4.86"/>
<circle cx="1346.5" cy="1113.5" r="4.86"/>
<circle cx="1349.5" cy="1113.5" r="4.86"/>
<circle cx="1352.5" cy="1113.5" r="4.86"/>
<circle cx="1355.5" cy="1113.5" r="4.86"/>
<circle cx="1358.5" cy="1113.5" r="4.86"/>
<circle cx="1361.5" cy="1113.5" r="4.86"/>
<circle cx="1364.5" cy="1112.5" r="4.86"/>
<circle cx="1367.5" cy="1112.5" r="4.86"/>
<circle cx="1370.5" cy="1112.5" r="4.86"/>
<circle cx="1373.5" cy="1112.5" r="4.86"/>
</g>
<path d="M1016.5 1125.5V882.5" stroke="#f00" stroke-width="2.78" stroke-dasharray="10.28 4.44" fill="none"/>
<circle cx="1016.5" cy="1054.5" r="5.56" fill="#f00" stroke="#f00" stroke-width="1.39"/>
<g stroke="#000" stroke-width="1.11" fill="none">
<path d="M164.5 1125.5v5.26"/>
<path d="M315.5 1125.5v5.26"/>
<path d="M466.5 1125.5v5.26"/>
<path d="M618.5 1125.5v5.26"/>
<path d="M769.5 1125.5v5.26"/>
<path d="M920.5 1125.5v5.26"/>
<path d="M1071.5 1125.5v5.26"/>
<path d="M1223.5 1125.5v5.26"/>
<path d="M1374.5 1125.5v5.26"/>
<path d="M89.5 1115.5h-5.26"/>
<path d="M89.5 1074.5h-5.26"/>
<path d="M89.5 1033.5h-5.26"/>
<path d="M89.5 992.5h-5.26"/>
<path d="M89.5 950.5h-5.26"/>
<path d="M89.5 909.5h-5.26"/>
<rect x="89.5" y="882.5" width="1285.0" height="243.0"/>
</g>
<text x="146.06" y="1150.00" font-size="19.44" textLength="36.02" lengthAdjust="spacing">500</text>
<text x="297.03" y="1150.00" font-size="19.44" textLength="36.09" lengthAdjust="spacing">750</text>
<text x="441.93" y="1150.00" font-size="19.44" textLength="48.25" lengthAdjust="spacing">1000</text>
<text x="592.93" y="1150.00" font-size="19.44" textLength="48.77" lengthAdjust="spacing">1250</text>
<text x="743.93" y="1150.00" font-size="19.44" textLength="48.36" lengthAdjust="spacing">1500</text>
<text x="894.93" y="1150.00" font-size="19.44" textLength="48.77" lengthAdjust="spacing">1750</text>
<text x="1046.88" y="1150.00" font-size="19.44" textLength="48.32" lengthAdjust="spacing">2000</text>
<text x="1197.88" y="1150.00" font-size="19.44" textLength="48.84" lengthAdjust="spacing">2250</text>
<text x="1349.88" y="1150.00" font-size="19.44" textLength="48.43" lengthAdjust="spacing">2500</text>
<text x="35.93" y="918.00" font-size="19.44" textLength="42.49" lengthAdjust="spacing">12.5</text>
<text x="35.93" y="959.00" font-size="19.44" textLength="42.34" lengthAdjust="spacing">10.0</text>
<text x="49.03" y="1000.00" font-size="19.44" textLength="30.41" lengthAdjust="spacing">7.5</text>
<text x="49.06" y="1041.00" font-size="19.44" textLength="30.15" lengthAdjust="spacing">5.0</text>
<text x="47.88" y="1082.00" font-size="19.44" textLength="30.30" lengthAdjust="spacing">2.5</text>
<text x="48.87" y="1124.00" font-size="19.44" textLength="29.86" lengthAdjust="spacing">0.0</text>
<text x="533.02" y="870.00" font-size="22.00" textLength="397.14" lengthAdjust="spacing">Spectral Profile at the marked point</text>
<text x="635.00" y="1176.00" font-size="22.00" textLength="192.24" lengthAdjust="spacing">Wavelength (nm)</text>
<text transform="translate(27.00,1073.06) rotate(-90)" font-size="22.00" textLength="129.57" lengthAdjust="spacing">Reflectance</text>
<rect x="1395.5" y="856.5" width="345.0" height="295.0" rx="3.33" fill="#fff" stroke="#ccc" stroke-width="1.39"/>
<rect x="1402.5" y="865.5" width="33" height="12.0" fill="#ee82ee" fill-opacity="0.2" stroke="#ee82ee" stroke-opacity="0.2" stroke-width="1.39" stroke-linejoin="round"/>
<text x="1448.96" y="878.00" font-size="17.00" textLength="103.63" lengthAdjust="spacing">visible-violet</text>
<rect x="1402.5" y="892.5" width="33" height="11.0" fill="#0000ff" fill-opacity="0.2" stroke="#0000ff" stroke-opacity="0.2" stroke-width="1.39" stroke-linejoin="round"/>
<text x="1448.96" y="904.00" font-size="17.00" textLength="94.05" lengthAdjust="spacing">visible-blue</text>
<rect x="1402.5" y="918.5" width="33" height="12.0" fill="#00ffff" fill-opacity="0.2" stroke="#00ffff" stroke-opacity="0.2" stroke-width="1.39" stroke-linejoin="round"/>
<text x="1448.96" y="931.00" font-size="17.00" textLength="97.77" lengthAdjust="spacing">visible-cyan</text>
<rect x="1402.5" y="944.5" width="33" height="12.0" fill="#008000" fill-opacity="0.2" stroke="#008000" stroke-opacity="0.2" stroke-width="1.39" stroke-linejoin="round"/>
<text x="1448.96" y="957.00" font-size="17.00" textLength="106.25" lengthAdjust="spacing">visible-green</text>
<rect x="1402.5" y="971.5" width="33" height="11.0" fill="#ffff00" fill-opacity="0.2" stroke="#ffff00" stroke-opacity="0.2" stroke-width="1.39" stroke-linejoin="round"/>
<text x="1448.96" y="983.00" font-size="17.00" textLength="111.14" lengthAdjust="spacing">visible-yellow</text>
<rect x="1402.5" y="997.5" width="33" height="12.0" fill="#ffa500" fill-opacity="0.2" stroke="#ffa500" stroke-opacity="0.2" stroke-width="1.39" stroke-linejoin="round"/>
<text x="1448.96" y="1010.00" font-size="17.00" textLength="116.86" lengthAdjust="spacing">visible-orange</text>
<rect x="1402.5" y="1023.5" width="33" height="12.0" fill="#ff0000" fill-opacity="0.2" stroke="#ff0000" stroke-opacity="0.2" stroke-width="1.39" stroke-linejoin="round"/>
<text x="1448.96" y="1036.00" font-size="17.00" textLength="85.35" lengthAdjust="spacing">visible-red</text>
<rect x="1402.5" y="1050.5" width="33" height="11.0" fill="#808080" fill-opacity="0.2" stroke="#808080" stroke-opacity="0.2" stroke-width="1.39" stroke-linejoin="round"/>
<text x="1449.03" y="1062.00" font-size="17.00" textLength="106.92" lengthAdjust="spacing">near-infrared</text>
<rect x="1402.5" y="1076.5" width="33" height="12.0" fill="#ffffff" fill-opacity="0.2" stroke="#ffffff" stroke-opacity="0.2" stroke-width="1.39" stroke-linejoin="round"/>
<text x="1448.98" y="1089.00" font-size="17.00" textLength="156.72" lengthAdjust="spacing">shortwave-infrared</text>
<rect x="1402.5" y="1102.5" width="33" height="12.0" fill="#0000ff" fill-opacity="0.1" stroke="#0000ff" stroke-opacity="0.1" stroke-width="1.39" stroke-linejoin="round"/>
<text x="1447.89" y="1115.00" font-size="17.00" textLength="166.59" lengthAdjust="spacing">water vapor regions</text>
<path d="M1402.4 1134.45h33.33" stroke="#f00" stroke-width="2.78" stroke-dasharray="10.28 4.44" fill="none"/>
<text x="1447.96" y="1141.00" font-size="17.00" textLength="285.55" lengthAdjust="spacing">Selected wavelength: 1909.00 nm</text>
</svg>
</body></html>
